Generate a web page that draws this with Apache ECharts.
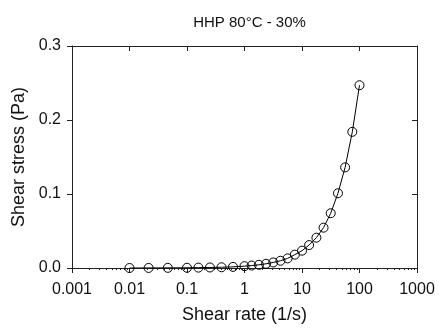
<!DOCTYPE html>
<html>
<head>
<meta charset="utf-8">
<script src="https://cdn.jsdelivr.net/npm/echarts@6/dist/echarts.min.js"></script>
<style>html,body{margin:0;padding:0;background:#fff}#c{width:439px;height:329px}</style>
</head>
<body>
<div id="c"></div>
<script>
var titleText = 'HHP 80°C - 30%';
var xAxisName = 'Shear rate (1/s)';
var yAxisName = 'Shear stress (Pa)';
var shearRate = [0.01, 0.0215, 0.0464, 0.1, 0.158, 0.251, 0.398, 0.631, 1, 1.33, 1.78, 2.37, 3.16, 4.22, 5.62, 7.5, 10, 13.3, 17.8, 23.7, 31.6, 42.2, 56.2, 75, 100];
var shearStress = [0.0000, 0.0001, 0.0002, 0.0003, 0.0005, 0.0007, 0.0010, 0.0015, 0.0025, 0.0033, 0.0043, 0.0057, 0.0075, 0.0098, 0.0130, 0.0180, 0.0234, 0.031, 0.041, 0.0545, 0.074, 0.101, 0.136, 0.184, 0.247];
var xTickLabels = ['0.001', '0.01', '0.1', '1', '10', '100', '1000'];
var yTickLabels = ['0.0', '0.1', '0.2', '0.3'];

var data = shearRate.map(function (x, i) { return [x, shearStress[i]]; });
var font = 'Liberation Sans, Arial, sans-serif';
var ax = '#222';

var chart = echarts.init(document.getElementById('c'));
chart.setOption({
  animation: false,
  backgroundColor: '#fff',
  title: {
    text: titleText, left: 244.5, top: 10, textAlign: 'center',
    textStyle: { fontFamily: font, fontSize: 15, fontWeight: 'normal', color: '#111' }
  },
  grid: { left: 72, right: 22, top: 46, bottom: 61, containLabel: false },
  xAxis: [{
    type: 'log', logBase: 10, min: 0.001, max: 1000, position: 'bottom',
    name: xAxisName, nameLocation: 'middle', nameGap: 38,
    nameTextStyle: { fontFamily: font, fontSize: 18, color: '#111' },
    axisLine: { show: true, onZero: false, lineStyle: { color: ax, width: 1 } },
    axisTick: { show: true, inside: false, length: 5, lineStyle: { color: ax } },
    minorTick: { show: true, splitNumber: 9, length: 2, lineStyle: { color: ax } },
    axisLabel: { fontFamily: font, fontSize: 16, color: '#111', margin: 14,
      formatter: function (v) { var i = Math.round(Math.log10(v)) + 3; return xTickLabels[i] || ''; } },
    splitLine: { show: false }, minorSplitLine: { show: false }
  }, {
    type: 'log', logBase: 10, min: 0.001, max: 1000, position: 'top',
    axisLine: { show: true, onZero: false, lineStyle: { color: ax, width: 1 } },
    axisTick: { show: true, inside: true, length: 5, lineStyle: { color: ax } },
    axisLabel: { show: false }, splitLine: { show: false }
  }],
  yAxis: [{
    type: 'value', min: 0, max: 0.3, interval: 0.1, position: 'left',
    name: yAxisName, nameLocation: 'middle', nameGap: 41, nameRotate: 90,
    nameTextStyle: { fontFamily: font, fontSize: 18, color: '#111' },
    axisLine: { show: true, onZero: false, lineStyle: { color: ax, width: 1 } },
    axisTick: { show: true, inside: false, length: 5, lineStyle: { color: ax } },
    axisLabel: { fontFamily: font, fontSize: 16, color: '#111', margin: 11,
      formatter: function (v) { var i = Math.round(v * 10); return yTickLabels[i] || ''; } },
    splitLine: { show: false }
  }, {
    type: 'value', min: 0, max: 0.3, interval: 0.1, position: 'right',
    axisLine: { show: true, onZero: false, lineStyle: { color: ax, width: 1 } },
    axisTick: { show: true, inside: true, length: 5, lineStyle: { color: ax } },
    axisLabel: { show: false }, splitLine: { show: false }
  }],
  series: [{
    type: 'line', xAxisIndex: 0, yAxisIndex: 0, data: data,
    symbol: 'circle', symbolSize: 9, showAllSymbol: true,
    lineStyle: { color: '#000', width: 1 },
    itemStyle: { color: 'rgba(0,0,0,0)', borderColor: '#000', borderWidth: 1 },
    emphasis: { disabled: true }
  }]
});
</script>
</body>
</html>
